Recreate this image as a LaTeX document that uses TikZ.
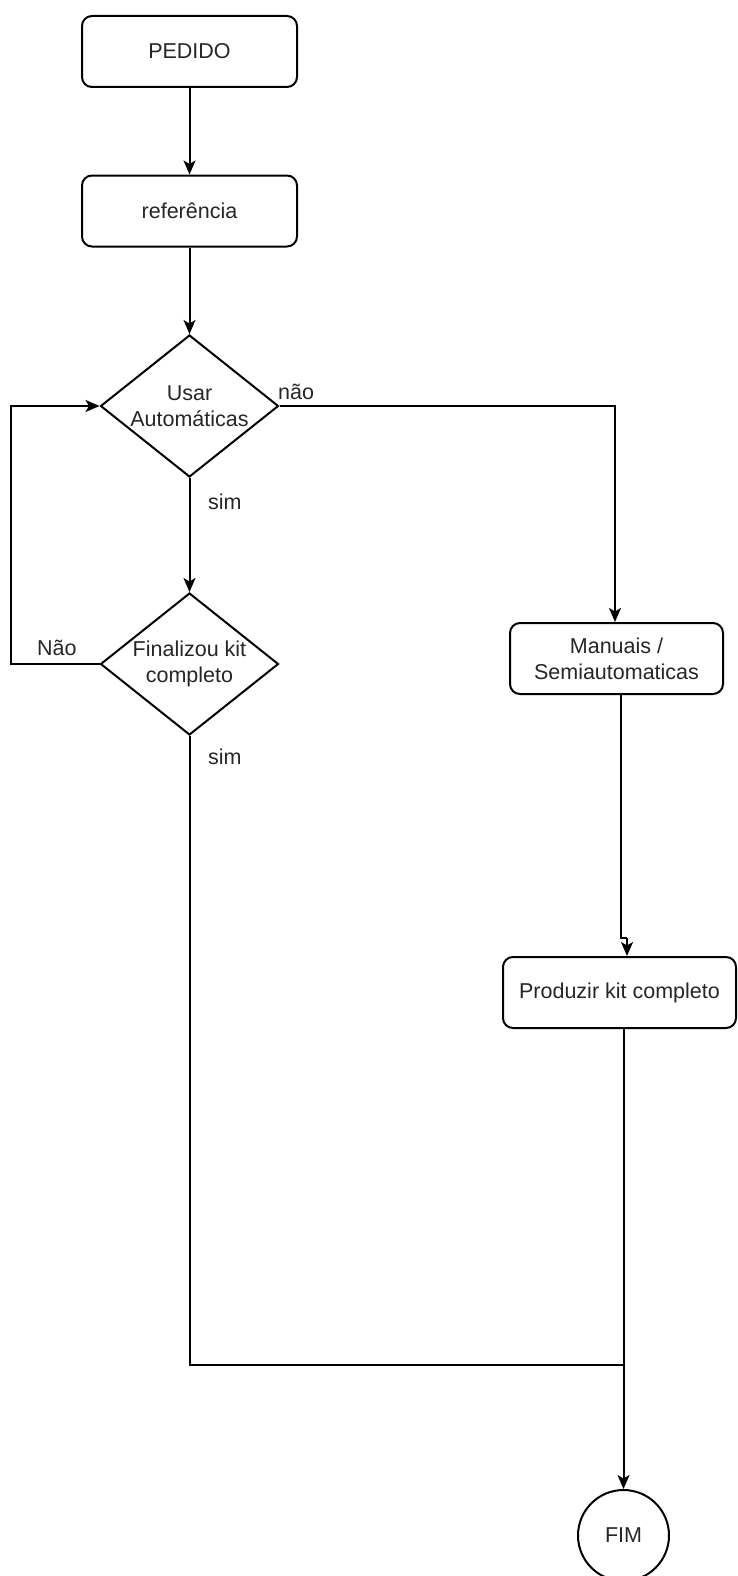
\documentclass[tikz,border=0pt]{standalone}
\usepackage{fontspec}
\setmainfont{Liberation Sans}
\usetikzlibrary{shapes.geometric,arrows.meta}
\begin{document}
\begin{tikzpicture}[x=1pt,y=-1pt,
  every node/.style={font=\fontsize{21.5}{26}\selectfont, text=black!85},
  line/.style={draw=black, line width=2pt},
  arr/.style={line, -{Stealth[length=14pt,width=12pt,inset=3.5pt]}},
  boxnode/.style={draw=black, line width=2pt, rounded corners=10pt, minimum width=215pt, minimum height=71pt, inner sep=0pt, align=center, fill=white},
  decision/.style={draw=black, line width=2pt, diamond, minimum width=178pt, minimum height=142pt, inner sep=0pt, fill=white},
  lbl/.style={inner sep=0pt}]
\useasboundingbox (0,0) rectangle (737,1576);

\node[boxnode] (pedido) at (189.5,51.5) {PEDIDO};
\node[boxnode] (ref) at (189.5,211) {referência};
\node[decision] (d1) at (189.5,406) {};
\node[lbl, align=center] (d1t) at (189.5,406) {Usar\\Automáticas};
\node[decision] (d2) at (189.5,664) {};
\node[lbl, align=center] (d2t) at (189.5,664) {Finalizou kit\\completo};
\node[boxnode, minimum width=213pt] (man) at (616.5,658.5) {Manuais /\\Semiautomaticas};
\node[boxnode, minimum width=233pt] (prod) at (619.5,992.5) {Produzir kit completo};
\node[draw=black, line width=2pt, circle, minimum size=91pt, inner sep=0pt] (fim) at (623.5,1535.5) {FIM};

\coordinate (c1) at (615,406);
\coordinate (c2) at (11,664);
\coordinate (c3) at (11,406);
\coordinate (j1) at (621,938);
\coordinate (j2) at (627,938);
\coordinate (m1) at (189.5,1365);
\coordinate (m2) at (623.5,1365);

\draw[arr] (pedido.south) -- (ref.north);
\draw[arr] (ref.south) -- (d1.north);
\draw[arr] (d1.south) -- (d2.north);
\draw[arr] (d1.east) -- (c1) -- (man.north -| c1);
\draw[arr] (d2.west) -- (c2) -- (c3) -- (d1.west);
\draw[line] (man.south -| j1) -- (j1) -- (j2);
\draw[arr] (j2) -- (prod.north -| j2);
\draw[arr] (prod.south -| m2) -- (fim.north);
\draw[line] (d2.south) -- (m1) -- (m2);

\node[lbl, anchor=west] (lnao1) at (278,392) {não};
\node[lbl, anchor=west] (lsim1) at (208,502) {sim};
\node[lbl, anchor=west] (lnao2) at (37,648) {Não};
\node[lbl, anchor=west] (lsim2) at (208,757) {sim};
\end{tikzpicture}
\end{document}
